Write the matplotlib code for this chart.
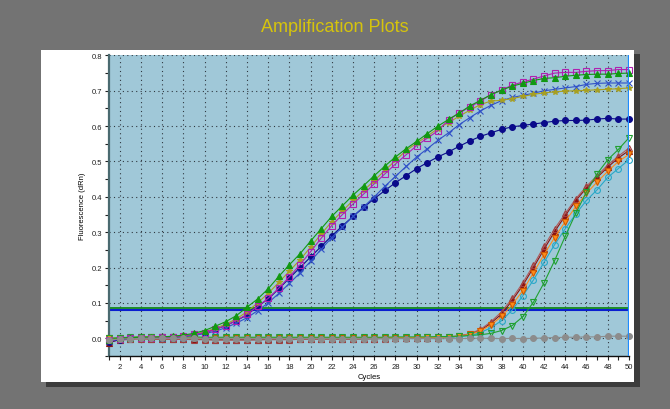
import numpy as np
import matplotlib
matplotlib.use("Agg")
import matplotlib.pyplot as plt
import matplotlib.patches as mpatches
from matplotlib.ticker import MultipleLocator

plt.rcParams["font.family"] = ["Liberation Sans", "DejaVu Sans"]

# ─────────────────────────────────────────────
# Data (cycles 1..50)
# ─────────────────────────────────────────────
cycles = list(range(1, 51))

green_tri = [-0.004, 0.000, 0.002, 0.003, 0.003, 0.004, 0.006, 0.009, 0.014, 0.022,
             0.034, 0.047, 0.064, 0.088, 0.111, 0.140, 0.175, 0.208, 0.239, 0.275,
             0.310, 0.345, 0.375, 0.405, 0.432, 0.460, 0.487, 0.513, 0.536, 0.557,
             0.579, 0.600, 0.619, 0.637, 0.657, 0.673, 0.689, 0.702, 0.713, 0.721,
             0.729, 0.735, 0.737, 0.741, 0.744, 0.746, 0.747, 0.747, 0.749, 0.750]

magenta_sq = [-0.006, -0.002, 0.001, 0.002, 0.002, 0.003, 0.004, 0.007, 0.011, 0.016,
              0.025, 0.036, 0.050, 0.068, 0.090, 0.113, 0.142, 0.174, 0.208, 0.245,
              0.283, 0.319, 0.350, 0.380, 0.408, 0.437, 0.465, 0.493, 0.519, 0.545,
              0.566, 0.587, 0.618, 0.637, 0.654, 0.671, 0.689, 0.702, 0.716, 0.725,
              0.733, 0.742, 0.750, 0.752, 0.752, 0.755, 0.757, 0.757, 0.760, 0.760]

olive_star = [-0.005, -0.001, 0.001, 0.002, 0.003, 0.003, 0.005, 0.008, 0.011, 0.018,
              0.028, 0.040, 0.055, 0.075, 0.100, 0.127, 0.158, 0.190, 0.222, 0.258,
              0.295, 0.330, 0.360, 0.390, 0.418, 0.446, 0.475, 0.503, 0.531, 0.552,
              0.572, 0.593, 0.610, 0.628, 0.645, 0.661, 0.671, 0.673, 0.678, 0.684,
              0.690, 0.694, 0.697, 0.699, 0.700, 0.701, 0.703, 0.704, 0.706, 0.708]

blue_x = [-0.008, -0.003, 0.000, 0.001, 0.002, 0.002, 0.003, 0.005, 0.008, 0.013,
          0.020, 0.030, 0.043, 0.058, 0.078, 0.100, 0.127, 0.155, 0.185, 0.218,
          0.252, 0.285, 0.315, 0.345, 0.372, 0.400, 0.430, 0.458, 0.486, 0.513,
          0.536, 0.560, 0.581, 0.604, 0.624, 0.643, 0.659, 0.672, 0.681, 0.687,
          0.693, 0.700, 0.704, 0.708, 0.712, 0.718, 0.721, 0.722, 0.722, 0.722]

navy_dot = [-0.010, -0.004, 0.000, 0.001, 0.002, 0.002, 0.003, 0.006, 0.010, 0.016,
            0.025, 0.036, 0.050, 0.066, 0.090, 0.111, 0.140, 0.170, 0.200, 0.230,
            0.260, 0.290, 0.318, 0.345, 0.370, 0.395, 0.418, 0.440, 0.460, 0.480,
            0.497, 0.513, 0.527, 0.543, 0.558, 0.571, 0.581, 0.591, 0.598, 0.602,
            0.606, 0.610, 0.614, 0.616, 0.616, 0.617, 0.620, 0.622, 0.620, 0.620]

maroon_tri = [-0.012, -0.004, -0.003, 0.003, -0.003, -0.002, -0.003, -0.002, -0.003, -0.003,
              -0.004, -0.004, -0.004, -0.004, -0.004, -0.003, -0.003, -0.003, -0.003, -0.003,
              -0.002, -0.002, -0.002, -0.002, -0.001, -0.001, 0.000, 0.000, 0.000, 0.001,
              0.001, 0.002, 0.003, 0.006, 0.012, 0.022, 0.043, 0.069, 0.107, 0.150,
              0.200, 0.252, 0.302, 0.347, 0.390, 0.425, 0.455, 0.484, 0.510, 0.531]

rose_tri = [-0.008, -0.005, -0.003, -0.002, -0.003, -0.003, -0.003, -0.003, -0.004, -0.004,
            -0.005, -0.005, -0.005, -0.005, -0.004, -0.004, -0.004, -0.004, -0.003, -0.003,
            -0.003, -0.003, -0.002, -0.002, -0.002, -0.001, -0.001, 0.000, 0.000, 0.001,
            0.001, 0.002, 0.004, 0.007, 0.013, 0.025, 0.047, 0.075, 0.113, 0.157,
            0.207, 0.260, 0.310, 0.353, 0.395, 0.430, 0.460, 0.490, 0.515, 0.538]

orange_tri = [0.000, 0.001, 0.002, 0.004, 0.004, 0.003, 0.003, 0.004, 0.002, 0.001,
              0.000, 0.000, 0.000, 0.001, 0.001, 0.001, 0.001, 0.001, 0.001, 0.001,
              0.001, 0.001, 0.001, 0.001, 0.001, 0.002, 0.002, 0.002, 0.002, 0.002,
              0.003, 0.003, 0.004, 0.006, 0.011, 0.020, 0.038, 0.062, 0.095, 0.135,
              0.185, 0.237, 0.285, 0.330, 0.373, 0.410, 0.442, 0.472, 0.500, 0.520]

cyan_circ = [-0.004, -0.002, 0.000, 0.001, 0.001, 0.001, 0.001, 0.001, 0.000, 0.000,
             0.000, 0.000, 0.000, 0.000, 0.000, 0.000, 0.000, 0.000, 0.000, 0.000,
             0.000, 0.000, 0.000, 0.000, 0.000, 0.001, 0.001, 0.001, 0.001, 0.001,
             0.002, 0.002, 0.003, 0.005, 0.008, 0.016, 0.030, 0.050, 0.080, 0.120,
             0.165, 0.215, 0.265, 0.310, 0.352, 0.390, 0.420, 0.455, 0.480, 0.505]

green_open = [0.000, 0.002, 0.003, 0.004, 0.004, 0.004, 0.004, 0.004, 0.004, 0.003,
              0.003, 0.003, 0.003, 0.003, 0.003, 0.003, 0.003, 0.003, 0.003, 0.003,
              0.003, 0.003, 0.003, 0.003, 0.003, 0.003, 0.003, 0.004, 0.004, 0.004,
              0.004, 0.005, 0.005, 0.006, 0.008, 0.010, 0.014, 0.022, 0.036, 0.061,
              0.102, 0.157, 0.220, 0.289, 0.354, 0.414, 0.465, 0.505, 0.534, 0.567]

gray_flat = [-0.005, -0.002, -0.002, 0.000, 0.000, 0.000, 0.000, 0.000, 0.000, -0.001,
             -0.001, -0.001, -0.001, -0.001, -0.001, -0.001, -0.001, -0.001, -0.001, -0.001,
             -0.001, -0.001, -0.001, -0.001, -0.001, -0.001, -0.001, -0.001, -0.001, -0.001,
             -0.001, -0.001, -0.001, -0.001, 0.000, 0.000, 0.000, -0.001, 0.000, -0.001,
             0.000, 0.001, 0.002, 0.003, 0.003, 0.004, 0.004, 0.006, 0.006, 0.006]

threshold_green = 0.085
threshold_blue = 0.079

# ─────────────────────────────────────────────
# Figure
# ─────────────────────────────────────────────
fig = plt.figure(figsize=(6.7, 4.1), dpi=100, facecolor="#737373")

# panel shadow + white panel (behind the axes)
fig.patches.append(mpatches.Rectangle((0.069, 0.054), 0.886, 0.811, transform=fig.transFigure,
                                      facecolor="#3c3c3c", edgecolor="none", zorder=-2))
fig.patches.append(mpatches.Rectangle((0.061, 0.066), 0.885, 0.810, transform=fig.transFigure,
                                      facecolor="white", edgecolor="none", zorder=-1))

fig.text(0.499, 0.934, "Amplification Plots", color="#d6c40c", fontsize=13,
         ha="center", va="center")

ax = fig.add_axes([0.1627, 0.1293, 0.776, 0.7331], zorder=2)
ax.set_facecolor("#a0c8d8")

ax.axhline(threshold_green, color="#11881a", lw=1.3, zorder=2)
ax.axhline(threshold_blue, color="#0a1ed0", lw=1.5, zorder=2)

series = [
    (maroon_tri, "#8b1010", "^", "#8b1010", "#8b1010"),
    (rose_tri, "#b05a5a", "^", "none", "#a04040"),
    (cyan_circ, "#28a8c8", "o", "none", "#28a8c8"),
    (orange_tri, "#ff8c1a", "v", "#ff8c1a", "#d05a00"),
    (green_open, "#20a030", "v", "none", "#20a030"),
    (navy_dot, "#0a0a8a", "o", "#0a0a8a", "#0a0a8a"),
    (blue_x, "#3050c8", "x", "none", "#3050c8"),
    (olive_star, "#a8a020", "*", "#a8a020", "#a8a020"),
    (magenta_sq, "#b020b0", "s", "none", "#b020b0"),
    (green_tri, "#119911", "^", "#119911", "#119911"),
    (gray_flat, "#8c8c8c", "o", "#8c8c8c", "#8c8c8c"),
]
for vals, col, mk, mfc, mec in series:
    ax.plot(cycles, vals, color=col, lw=0.8, marker=mk, ms=4.2,
            mfc=mfc, mec=mec, mew=0.8, zorder=3, clip_on=False)

ax.axvline(50, color="#1e8cff", lw=1.6, zorder=4)

ax.set_xlim(1, 50)
ax.set_ylim(-0.05, 0.8)

ax.xaxis.set_major_locator(MultipleLocator(2))
ax.xaxis.set_minor_locator(MultipleLocator(1))
ax.yaxis.set_minor_locator(MultipleLocator(0.05))
ax.set_yticks(np.arange(0.0, 0.81, 0.1))
ax.set_yticklabels([f"{v:.1f}" for v in np.arange(0.0, 0.81, 0.1)])
ax.tick_params(which="both", direction="out", labelsize=5.5, length=3, width=0.8,
               colors="#202020", pad=2)
ax.tick_params(axis="x", which="both", top=False)

ax.grid(which="major", color="#303840", linestyle=(0, (1, 3)), lw=0.8)

for s in ["top", "right"]:
    ax.spines[s].set_visible(False)
ax.spines["left"].set_color("#4a6a70")
ax.spines["left"].set_linewidth(1.6)
ax.spines["bottom"].set_color("#101010")
ax.spines["bottom"].set_linewidth(1.0)

ax.set_xlabel("Cycles", fontsize=5.5, labelpad=2)
ax.set_ylabel("Fluorescence (dRn)", fontsize=5.5, labelpad=4)

fig.savefig("out.png", dpi=100, facecolor=fig.get_facecolor())
